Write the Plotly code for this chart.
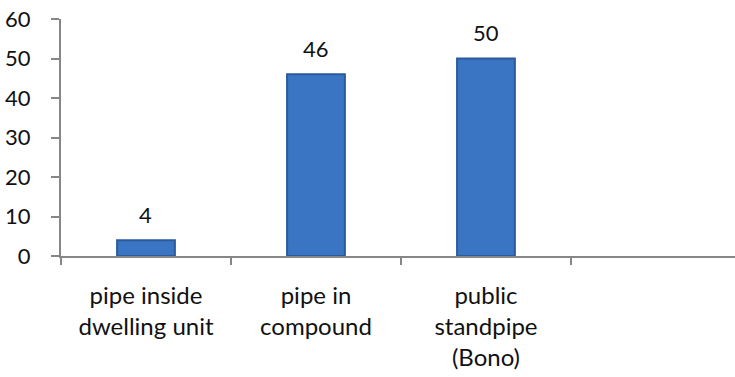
import plotly.graph_objects as go

# Water source categories and share of households (%)
categories = ["pipe inside<br>dwelling unit", "pipe in<br>compound", "public<br>standpipe<br>(Bono)", " "]
values = [4, 46, 50, None]
y_ticks = [0, 10, 20, 30, 40, 50, 60]

FONT = "Lato"
TEXT = "#111111"
AXIS_GREY = "#868686"

fig = go.Figure()
fig.add_trace(go.Bar(
    x=categories,
    y=values,
    width=0.34,
    marker=dict(color="#3a75c3", line=dict(color="#2a5a9c", width=2)),
    hoverinfo="skip",
))

# value labels above each bar
for c, v in zip(categories, values):
    if v is None:
        continue
    fig.add_annotation(x=c, y=v, text=str(v), showarrow=False, yshift=26,
                       font=dict(family=FONT, size=22, color=TEXT))

fig.update_layout(
    width=735, height=377,
    margin=dict(l=61, r=0, t=19, b=121),
    paper_bgcolor="white", plot_bgcolor="white",
    showlegend=False,
    font=dict(family=FONT, size=22, color=TEXT),
)
fig.update_xaxes(
    type="category",
    range=[-0.5, 3.465],
    tickson="boundaries",
    ticks="outside", ticklen=7, tickwidth=1.5, tickcolor=AXIS_GREY,
    showline=True, linecolor=AXIS_GREY, linewidth=2,
    showgrid=False, zeroline=False,
    ticklabelstandoff=17,
    tickfont=dict(family=FONT, size=24, color=TEXT),
)
fig.update_yaxes(
    range=[0, 60],
    tickvals=y_ticks,
    ticks="outside", ticklen=8, tickwidth=1.5, tickcolor=AXIS_GREY,
    showline=True, linecolor=AXIS_GREY, linewidth=2,
    showgrid=False, zeroline=False,
    ticklabelstandoff=16,
    tickfont=dict(family=FONT, size=22, color=TEXT),
)

fig.write_html("out.html")
